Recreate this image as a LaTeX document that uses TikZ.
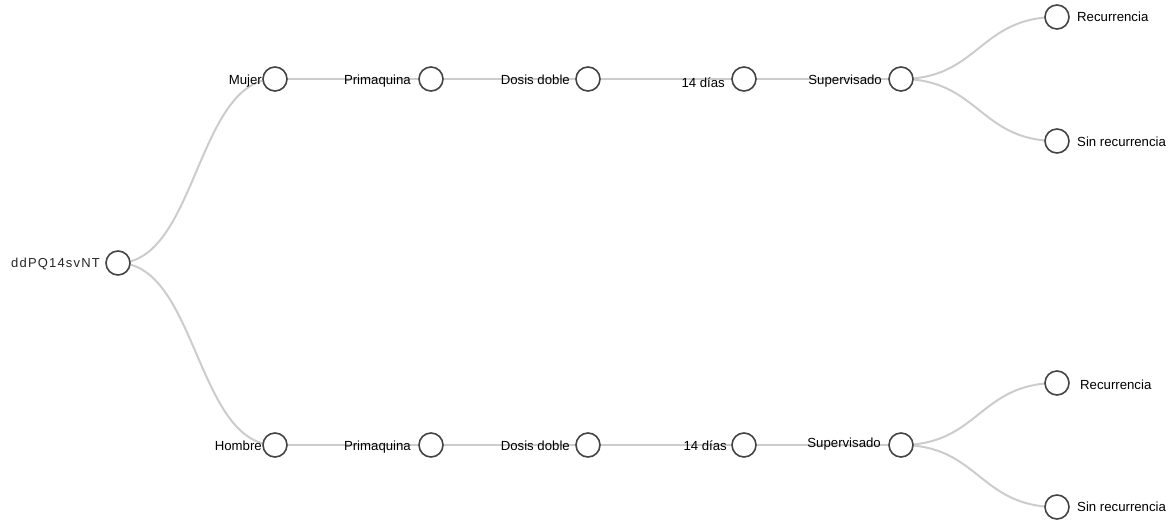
\documentclass[tikz,border=0pt]{standalone}
\usepackage{fontspec}
\setmainfont{Liberation Sans}
\newfontfamily\rootfont[LetterSpace=9]{Liberation Sans}
\usetikzlibrary{calc,backgrounds}

\definecolor{linkgray}{HTML}{CCCCCC}
\definecolor{ringgray}{HTML}{444444}

\tikzset{
  treenode/.style={circle, draw=ringgray, line width=1.6pt, fill=white,
    inner sep=0pt, minimum size=24pt},
  lbl/.style={font=\fontsize{13.2}{15}\selectfont, inner sep=0pt, text=black},
  link/.style={draw=linkgray, line width=2pt,
    to path={let \p1=(\tikztostart), \p2=(\tikztotarget) in
      .. controls ({0.5*\x1+0.5*\x2},\y1) and ({0.5*\x1+0.5*\x2},\y2) .. (\tikztotarget)}}
}

\begin{document}
\begin{tikzpicture}[x=1pt,y=-1pt]
\useasboundingbox (0,0) rectangle (1173,520);

% circles of the tree
\node[treenode] (root) at (118,263) {};
\node[treenode] (mu)  at (275,79) {};
\node[treenode] (pqa) at (431,79) {};
\node[treenode] (dda) at (588,79) {};
\node[treenode] (d14a) at (744,79) {};
\node[treenode] (sva) at (901,79) {};
\node[treenode] (rca) at (1057,17) {};
\node[treenode] (sra) at (1057,141) {};

\node[treenode] (ho)  at (275,445) {};
\node[treenode] (pqb) at (431,445) {};
\node[treenode] (ddb) at (588,445) {};
\node[treenode] (d14b) at (744,445) {};
\node[treenode] (svb) at (901,445) {};
\node[treenode] (rcb) at (1057,383) {};
\node[treenode] (srb) at (1057,507) {};

% labels, placed by their baselines
\node[anchor=base east, inner sep=0pt, font=\fontsize{13}{15}\selectfont\rootfont, text=black!85] (troot) at (100,267) {ddPQ14svNT};
\node[lbl, anchor=base east] (tmu) at (262,84.5) {Mujer};
\node[lbl, anchor=base east] (tpqa) at (411,84.5) {Primaquina};
\node[lbl, anchor=base east] (tdda) at (570,84.5) {Dosis doble};
\node[lbl, anchor=base east] (td14a) at (725,87) {14 días};
\node[lbl, anchor=base east] (tsva) at (882,84.5) {Supervisado};
\node[lbl, anchor=base west] (trca) at (1077,21) {Recurrencia};
\node[lbl, anchor=base west] (tsra) at (1077,146.5) {Sin recurrencia};

\node[lbl, anchor=base east] (tho) at (262,450.5) {Hombre};
\node[lbl, anchor=base east] (tpqb) at (411,450.5) {Primaquina};
\node[lbl, anchor=base east] (tddb) at (570,450.5) {Dosis doble};
\node[lbl, anchor=base east] (td14b) at (727,450.5) {14 días};
\node[lbl, anchor=base east] (tsvb) at (881,447.5) {Supervisado};
\node[lbl, anchor=base west] (trcb) at (1080,389) {Recurrencia};
\node[lbl, anchor=base west] (tsrb) at (1077,511.5) {Sin recurrencia};

% connectors behind the circles
\begin{scope}[on background layer]
  \draw[link] (root.center) to (mu.center);
  \draw[link] (root.center) to (ho.center);
  \draw[link] (mu.center) to (pqa.center);
  \draw[link] (pqa.center) to (dda.center);
  \draw[link] (dda.center) to (d14a.center);
  \draw[link] (d14a.center) to (sva.center);
  \draw[link] (sva.center) to (rca.center);
  \draw[link] (sva.center) to (sra.center);
  \draw[link] (ho.center) to (pqb.center);
  \draw[link] (pqb.center) to (ddb.center);
  \draw[link] (ddb.center) to (d14b.center);
  \draw[link] (d14b.center) to (svb.center);
  \draw[link] (svb.center) to (rcb.center);
  \draw[link] (svb.center) to (srb.center);
\end{scope}
\end{tikzpicture}
\end{document}
